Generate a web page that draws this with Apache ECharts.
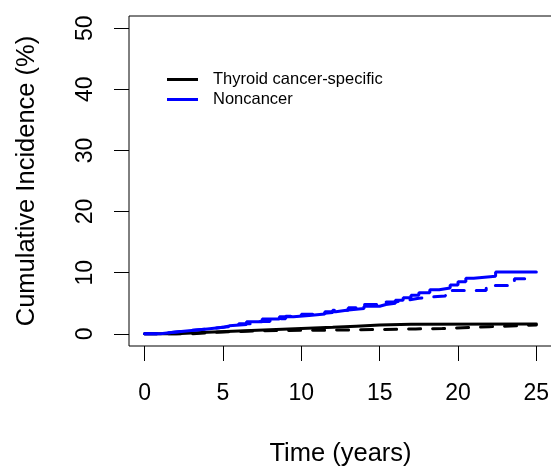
<!DOCTYPE html>
<html>
<head>
<meta charset="utf-8">
<script src="https://cdn.jsdelivr.net/npm/echarts@6/dist/echarts.min.js"></script>
<style>html,body{margin:0;padding:0;background:#fff;}#c{width:551px;height:466px;}</style>
</head>
<body>
<div id="c"></div>
<script>
// Tick labels
const xTicks = [0, 5, 10, 15, 20, 25];
const yTicks = [0, 10, 20, 30, 40, 50];

// Noncancer (solid)
const nonSolidT = [0, 1, 2, 3, 4, 5, 5.4, 6.5, 7.5, 8.6, 9.5, 10.5, 11.5, 12.2, 13, 14, 15, 15.4, 16, 16.5, 17, 17.5, 18.2, 18.8, 19.5, 20, 20.5, 21, 22.4, 25];
const nonSolidV = [0, 0.3, 0.55, 0.8, 1.05, 1.3, 1.5, 1.95, 2.4, 2.8, 3.0, 3.25, 3.6, 3.9, 4.15, 4.5, 4.8, 5.0, 5.5, 5.9, 6.3, 6.7, 7.2, 7.5, 8.0, 8.5, 9.1, 9.4, 10.1, 10.1];

// Noncancer (dashed)
const nonDashT = [0, 1, 2, 3, 4, 5, 6, 7, 8, 9, 10, 11, 12, 13, 14, 15, 16, 16.8, 17.5, 18.2, 19.2, 21.8, 23.6, 25];
const nonDashV = [0, 0.3, 0.55, 0.8, 1.05, 1.3, 1.65, 2.0, 2.45, 2.85, 3.2, 3.5, 3.85, 4.25, 4.8, 5.2, 5.5, 5.8, 6.0, 6.2, 7.1, 7.9, 9.0, 9.0];

// Thyroid cancer-specific (solid)
const thySolidT = [0, 2, 4, 6, 8, 10, 12, 13.5, 15, 17, 25];
const thySolidV = [0, 0.25, 0.45, 0.65, 0.85, 1.05, 1.25, 1.45, 1.55, 1.6, 1.6];

// Thyroid cancer-specific (dashed)
const thyDashT = [0, 3, 5, 7, 9, 12, 15, 17.3, 19, 22, 24, 25];
const thyDashV = [0, 0.3, 0.45, 0.55, 0.6, 0.7, 0.8, 0.85, 1.15, 1.35, 1.45, 1.5];

const pairs = (t, v) => t.map((x, i) => [x, v[i]]);
const FONT = 'Liberation Sans, Arial, sans-serif';

const chart = echarts.init(document.getElementById('c'));
chart.setOption({
  animation: false,
  backgroundColor: '#fff',
  grid: { left: 129, top: 16, width: 423, height: 330, show: true, borderColor: '#000', borderWidth: 1,
          backgroundColor: 'transparent', containLabel: false, outerBoundsMode: 'none' },
  legend: {
    orient: 'vertical', left: 167, top: 71, itemGap: 3, padding: 0,
    itemWidth: 31, itemHeight: 3, icon: 'rect',
    data: ['Thyroid cancer-specific', 'Noncancer'],
    textStyle: { fontFamily: FONT, fontSize: 16.5, color: '#000', padding: [0, 0, 0, 10] }
  },
  xAxis: {
    type: 'value', min: -1, max: 26,
    name: 'Time (years)', nameLocation: 'middle', nameGap: 95,
    nameTextStyle: { fontFamily: FONT, fontSize: 25.5, color: '#000' },
    axisLine: { show: false, onZero: false },
    axisTick: { show: true, customValues: xTicks, length: 15, lineStyle: { color: '#000', width: 1 } },
    axisLabel: { customValues: xTicks, margin: 36, fontFamily: FONT, fontSize: 23, color: '#000' },
    splitLine: { show: false }
  },
  yAxis: {
    type: 'value', min: -2, max: 52,
    name: 'Cumulative Incidence (%)', nameLocation: 'middle', nameGap: 89,
    nameTextStyle: { fontFamily: FONT, fontSize: 25.5, color: '#000' },
    axisLine: { show: false, onZero: false },
    axisTick: { show: true, customValues: yTicks, length: 15, lineStyle: { color: '#000', width: 1 } },
    axisLabel: { customValues: yTicks, rotate: 90, margin: 32, fontFamily: FONT, fontSize: 23, color: '#000' },
    splitLine: { show: false }
  },
  series: [
    { name: 'Thyroid cancer-specific', type: 'line', step: 'end', showSymbol: false, color: '#000',
      lineStyle: { color: '#000', width: 3, cap: 'round' }, data: pairs(thySolidT, thySolidV) },
    { name: 'Thyroid cancer-specific (dashed)', type: 'line', step: 'end', showSymbol: false, color: '#000',
      lineStyle: { color: '#000', width: 3, type: [12, 12], cap: 'round' }, data: pairs(thyDashT, thyDashV) },
    { name: 'Noncancer', type: 'line', step: 'end', showSymbol: false, color: '#0000FF',
      lineStyle: { color: '#0000FF', width: 3, cap: 'round' }, data: pairs(nonSolidT, nonSolidV) },
    { name: 'Noncancer (dashed)', type: 'line', step: 'end', showSymbol: false, color: '#0000FF',
      lineStyle: { color: '#0000FF', width: 3, type: [12, 12], cap: 'round' }, data: pairs(nonDashT, nonDashV) }
  ]
});
</script>
</body>
</html>
